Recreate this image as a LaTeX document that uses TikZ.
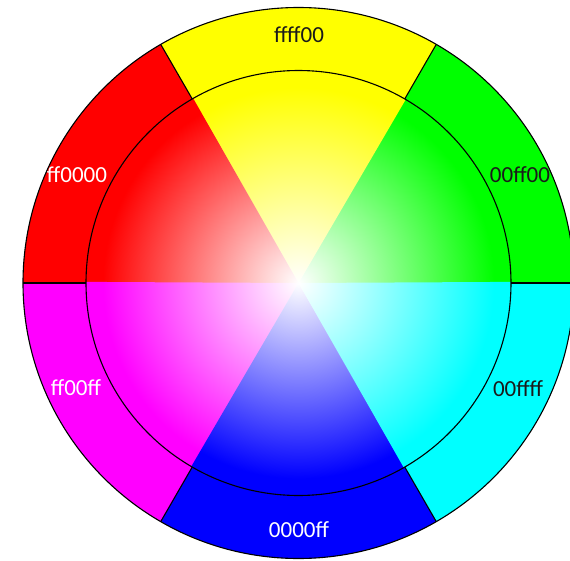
\documentclass[tikz,border=0pt]{standalone}
\usepackage{fontspec}
\setmainfont{Carlito}
\definecolor{wred}{HTML}{FF0000}
\definecolor{wyellow}{HTML}{FFFF00}
\definecolor{wgreen}{HTML}{00FF00}
\definecolor{wcyan}{HTML}{00FFFF}
\definecolor{wblue}{HTML}{0000FF}
\definecolor{wmagenta}{HTML}{FF00FF}
\definecolor{darktext}{HTML}{1A1A1A}
\pgfdeclareradialshading{shred}{\pgfpoint{0bp}{0bp}}{color(0bp)=(white); color(23bp)=(wred); color(50bp)=(wred)}
\pgfdeclareradialshading{shyellow}{\pgfpoint{0bp}{0bp}}{color(0bp)=(white); color(23bp)=(wyellow); color(50bp)=(wyellow)}
\pgfdeclareradialshading{shgreen}{\pgfpoint{0bp}{0bp}}{color(0bp)=(white); color(23bp)=(wgreen); color(50bp)=(wgreen)}
\pgfdeclareradialshading{shcyan}{\pgfpoint{0bp}{0bp}}{color(0bp)=(white); color(23bp)=(wcyan); color(50bp)=(wcyan)}
\pgfdeclareradialshading{shblue}{\pgfpoint{0bp}{0bp}}{color(0bp)=(white); color(23bp)=(wblue); color(50bp)=(wblue)}
\pgfdeclareradialshading{shmagenta}{\pgfpoint{0bp}{0bp}}{color(0bp)=(white); color(23bp)=(wmagenta); color(50bp)=(wmagenta)}
\tikzset{
  wheelline/.style={draw=black, line width=1.1pt},
  lightlabel/.style={text=white, font=\fontsize{23}{23}\selectfont, inner sep=0pt},
  darklabel/.style={text=darktext, font=\fontsize{23}{23}\selectfont, inner sep=0pt},
}
\newcommand{\rin}{212.5}
\newcommand{\rout}{275.5}
\newcommand{\wheelsector}[3]{%
  % #1 start angle, #2 end angle, #3 colour name suffix
  \fill[w#3] (#1:\rin) -- (#1:\rout) arc[start angle=#1, end angle=#2, radius=\rout] -- (#2:\rin) arc[start angle=#2, end angle=#1, radius=\rin] -- cycle;
  \begin{scope}
    \clip (0,0) -- ({#1-0.3}:{\rin+1}) arc[start angle={#1-0.3}, end angle={#2+0.3}, radius={\rin+1}] -- cycle;
    \shade[shading=sh#3] (0,0) circle (\rin);
  \end{scope}}
\begin{document}
\begin{tikzpicture}[x=1pt,y=1pt]
\useasboundingbox (-298.5,-277) rectangle (271.5,283);
\coordinate (C) at (0,0);
\wheelsector{0}{60}{green}
\wheelsector{60}{120}{yellow}
\wheelsector{120}{180}{red}
\wheelsector{180}{240}{magenta}
\wheelsector{240}{300}{blue}
\wheelsector{300}{360}{cyan}
\draw[wheelline] (C) circle (\rout);
\draw[wheelline] (C) circle (\rin);
\foreach \a in {0,60,120,180,240,300}
  \draw[wheelline] (\a:\rin) -- (\a:\rout);
\node[darklabel] (lyellow) at (0.5,248) {ffff00};
\node[lightlabel] (lred) at (-221.5,108) {ff0000};
\node[darklabel] (lgreen) at (221.5,108) {00ff00};
\node[lightlabel] (lmagenta) at (-222.5,-105) {ff00ff};
\node[darklabel] (lcyan) at (219.5,-106) {00ffff};
\node[lightlabel] (lblue) at (0.5,-247) {0000ff};
\end{tikzpicture}
\end{document}
